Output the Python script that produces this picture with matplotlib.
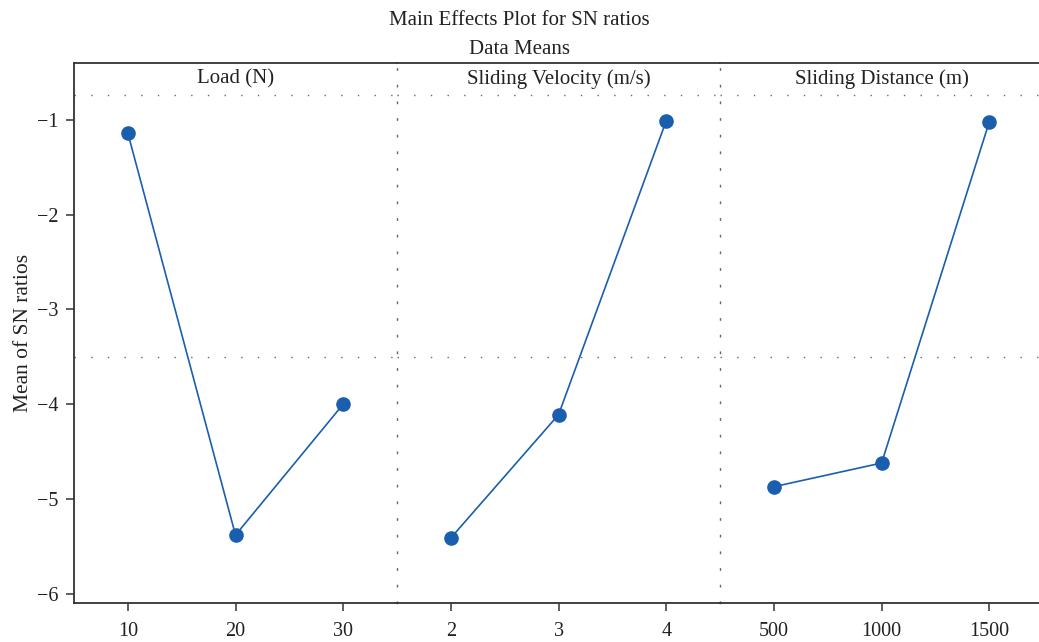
import matplotlib
matplotlib.use("Agg")
import matplotlib.pyplot as plt

plt.rcParams['font.family'] = ['Liberation Serif', 'DejaVu Serif']

factors = ["Load (N)", "Sliding Velocity (m/s)", "Sliding Distance (m)"]
load_levels = ["10", "20", "30"]
velocity_levels = ["2", "3", "4"]
distance_levels = ["500", "1000", "1500"]
load_sn = [-1.14, -5.38, -4.00]
velocity_sn = [-5.41, -4.11, -1.01]
distance_sn = [-4.87, -4.62, -1.02]
y_ticks = [-1, -2, -3, -4, -5, -6]

levels = [load_levels, velocity_levels, distance_levels]
values = [load_sn, velocity_sn, distance_sn]
all_vals = load_sn + velocity_sn + distance_sn
grand_mean = sum(all_vals) / len(all_vals)

fig = plt.figure(figsize=(10.39, 6.42), dpi=100)
left, right = 0.0712, 1.004
bottom, top = 0.061, 0.902
width = (right - left) / 3

ymin, ymax = -6.095, -0.40
header_y = -0.735
line_color = "#1a5fae"
dot_style = (0, (1, 11))
text_color = "#222222"

axes = []
for i in range(3):
    ax = fig.add_axes([left + i * width, bottom, width, top - bottom])
    axes.append(ax)
    x = list(range(len(levels[i])))
    ax.plot(x, values[i], color=line_color, lw=1.2, marker="o", ms=9.5,
            markerfacecolor=line_color, markeredgecolor=line_color, zorder=3)
    ax.set_xlim(-0.5, 2.5)
    ax.set_ylim(ymin, ymax)
    ax.set_xticks(x)
    ax.set_xticklabels(levels[i], fontsize=14.5)
    ax.axhline(grand_mean, color="#666666", lw=1.0, ls=dot_style, zorder=1)
    ax.axhline(header_y, color="#666666", lw=1.0, ls=dot_style, zorder=1)
    ax.text(1, (header_y + ymax) / 2, factors[i], ha="center", va="center",
            fontsize=15, color=text_color)
    ax.spines["right"].set_visible(False)
    for side in ("top", "bottom"):
        ax.spines[side].set_linewidth(1.3)
        ax.spines[side].set_color("#333333")
    ax.tick_params(axis="x", direction="out", length=6, width=1.1,
                   colors="#333333", labelcolor=text_color, pad=8)
    if i == 0:
        ax.set_yticks(y_ticks)
        ax.set_yticklabels(["\u2212%d" % abs(t) for t in y_ticks], fontsize=14.5)
        ax.tick_params(axis="y", direction="out", length=6, width=1.1,
                       colors="#333333", labelcolor=text_color, pad=5)
        ax.spines["left"].set_linewidth(1.3)
        ax.spines["left"].set_color("#333333")
        ax.set_ylabel("Mean of SN ratios", fontsize=15.5, color=text_color, labelpad=3)
    else:
        ax.set_yticks([])
        ax.spines["left"].set_color("#666666")
        ax.spines["left"].set_linestyle(dot_style)
        ax.spines["left"].set_linewidth(1.0)

fig.text(0.5, 0.968, "Main Effects Plot for SN ratios", ha="center", va="center",
         fontsize=15, color=text_color)
fig.text(0.5, 0.923, "Data Means", ha="center", va="center",
         fontsize=15, color=text_color)

fig.savefig("out.png", dpi=100)
